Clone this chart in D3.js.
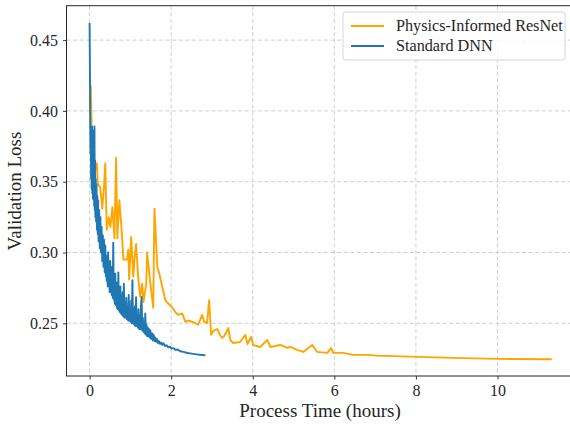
<!DOCTYPE html>
<html><head><meta charset="utf-8">
<script src="https://cdn.jsdelivr.net/npm/d3@7"></script>
<style>body{margin:0;background:#fff;} svg{display:block;} text{font-family:"Liberation Serif","DejaVu Serif",serif;fill:#262626;}</style>
</head><body>
<svg id="c" width="570" height="425"></svg>
<script>
const seriesNames = ["Physics-Informed ResNet", "Standard DNN"];
const xTicks = [0, 2, 4, 6, 8, 10];
const yTicks = [0.25, 0.30, 0.35, 0.40, 0.45];

const resnetTime = [0.03,0.05,0.08,0.11,0.14,0.18,0.20,0.23,0.26,0.31,0.35,0.385,0.42,0.47,0.51,0.56,0.61,0.65,0.68,0.73,0.78,0.83,0.92,0.95,0.97,1.02,1.07,1.10,1.14,1.19,1.24,1.29,1.32,1.39,1.41,1.49,1.56,1.59,1.66,1.71,1.78,1.86,1.93,2.03,2.10,2.17,2.27,2.35,2.42,2.52,2.59,2.66,2.76,2.81,2.88,2.93,2.98,3.03,3.13,3.20,3.25,3.30,3.38,3.40,3.45,3.52,3.69,3.82,3.87,3.96,4.01,4.18,4.36,4.43,4.67,4.85,4.92,5.09,5.24,5.36,5.46,5.58,5.83,5.92,5.97,6.22,6.46,6.81,7.12,7.30,8.03,8.91,9.99,11.33];
const resnetLoss = [0.418,0.388,0.372,0.365,0.358,0.363,0.349,0.347,0.346,0.331,0.345,0.363,0.316,0.325,0.318,0.332,0.310,0.367,0.310,0.337,0.318,0.295,0.295,0.302,0.281,0.311,0.283,0.295,0.306,0.283,0.269,0.278,0.265,0.278,0.300,0.278,0.261,0.331,0.290,0.285,0.276,0.266,0.264,0.261,0.258,0.256,0.257,0.251,0.252,0.251,0.2502,0.249,0.256,0.251,0.2502,0.2664,0.2418,0.2446,0.246,0.2418,0.2397,0.241,0.2453,0.2467,0.2382,0.2361,0.2368,0.2418,0.2354,0.2403,0.2347,0.2333,0.2382,0.2333,0.2347,0.2326,0.2333,0.2312,0.2298,0.2326,0.2347,0.2298,0.2291,0.2326,0.2291,0.2291,0.2277,0.2277,0.227,0.227,0.2263,0.2256,0.2249,0.2246];

const dnnTime = [0.000,0.008,0.015,0.022,0.030,0.037,0.045,0.052,0.060,0.067,0.075,0.082,0.090,0.097,0.105,0.112,0.120,0.127,0.135,0.142,0.150,0.160,0.170,0.180,0.190,0.200,0.210,0.220,0.235,0.250,0.265,0.280,0.295,0.310,0.325,0.340,0.355,0.370,0.385,
  0.400,0.410,0.420,0.432,0.445,0.455,0.468,0.480,0.492,0.505,0.518,0.530,0.542,0.555,0.567,0.580,0.592,0.605,0.617,0.630,0.642,0.655,0.667,0.680,0.692,0.705,0.718,0.730,0.742,0.755,0.768,0.780,0.795,0.810,0.825,0.840,0.855,0.870,0.885,0.900,0.915,0.930,0.945,0.960,0.975,0.990,1.005,1.020,1.035,1.050,1.065,1.080,1.095,1.110,1.125,1.140,1.155,1.170,1.185,1.200,1.215,1.230,1.245,1.260,1.275,1.290,1.305,1.320,1.335,1.350,1.365,1.380,1.395,1.410,1.425,1.440,1.455,1.470,1.490,1.510,1.530,1.550,1.570,1.590,1.610,1.630,1.650,1.675,1.700,1.725,1.750,1.780,
  1.810,1.850,1.890,1.930,1.970,2.010,2.060,2.110,2.160,2.220,2.300,2.380,2.460,2.540,2.620,2.700,2.780,2.840];
const dnnLoss = [0.462,0.430,0.395,0.370,0.388,0.352,0.385,0.345,0.389,0.342,0.380,0.338,0.386,0.340,0.372,0.333,0.389,0.330,0.365,0.325,0.352,0.322,0.348,0.316,0.340,0.313,0.337,0.308,0.330,0.303,0.325,0.300,0.318,0.294,0.312,0.290,0.309,0.286,0.305,
  0.283,0.298,0.280,0.293,0.276,0.300,0.277,0.288,0.272,0.294,0.273,0.283,0.270,0.290,0.268,0.307,0.267,0.280,0.264,0.285,0.263,0.274,0.261,0.279,0.260,0.286,0.259,0.270,0.258,0.276,0.257,0.266,0.256,0.272,0.255,0.278,0.254,0.263,0.254,0.268,0.253,0.262,0.252,0.270,0.252,0.260,0.251,0.266,0.250,0.2805,0.250,0.259,0.249,0.262,0.248,0.2685,0.248,0.256,0.247,0.260,0.246,0.255,0.246,0.262,0.2687,0.245,0.254,0.244,0.251,0.243,0.257,0.242,0.249,0.241,0.247,0.241,0.246,0.240,0.245,0.239,0.243,0.238,0.242,0.2375,0.240,0.237,0.239,0.236,0.2375,0.2355,0.2365,0.2348,
  0.236,0.234,0.2345,0.233,0.2335,0.2322,0.2325,0.2312,0.2315,0.2303,0.2298,0.2292,0.2288,0.2284,0.2281,0.2278,0.2276,0.2274];

const colors = ["#FFA500", "#1f77b4"];

const svg = d3.select("#c");
const L = 66.5, R = 575, T = 5.7, B = 376;
const x = d3.scaleLinear().domain([-0.566, 11.9]).range([L, R]);
const y = d3.scaleLinear().domain([0.2128, 0.4743]).range([B, T]);

// grid
const grid = svg.append("g");
grid.selectAll(".vg").data(xTicks).enter().append("line")
  .attr("x1", d => x(d)).attr("x2", d => x(d)).attr("y1", T).attr("y2", B)
  .attr("stroke", "#cfcfcf").attr("stroke-width", 1).attr("stroke-dasharray", "4,2.6");
grid.selectAll(".hg").data(yTicks).enter().append("line")
  .attr("y1", d => y(d)).attr("y2", d => y(d)).attr("x1", L).attr("x2", R)
  .attr("stroke", "#cfcfcf").attr("stroke-width", 1).attr("stroke-dasharray", "4,2.6");

// lines
const line = d3.line().x(d => x(d[0])).y(d => y(d[1]));
const resnet = resnetTime.map((t, i) => [t, resnetLoss[i]]);
const dnn = dnnTime.map((t, i) => [t, dnnLoss[i]]);
svg.append("path").datum(resnet).attr("d", line).attr("fill", "none")
  .attr("stroke", colors[0]).attr("stroke-width", 1.9).attr("stroke-linejoin", "round");
svg.append("path").datum(dnn).attr("d", line).attr("fill", "none")
  .attr("stroke", colors[1]).attr("stroke-width", 1.9).attr("stroke-linejoin", "round");

// axes
const xAxis = d3.axisBottom(x).tickValues(xTicks).tickSize(3.5).tickPadding(5).tickFormat(d3.format("d"));
const yAxis = d3.axisLeft(y).tickValues(yTicks).tickSize(3.5).tickPadding(5).tickFormat(d3.format(".2f"));
const gx = svg.append("g").attr("transform", `translate(0,${B})`).call(xAxis);
const gy = svg.append("g").attr("transform", `translate(${L},0)`).call(yAxis);
[gx, gy].forEach(g => {
  g.select(".domain").remove();
  g.selectAll(".tick line").attr("stroke", "#262626").attr("stroke-width", 0.9);
  g.selectAll(".tick text").attr("font-size", 16).attr("font-family", "'Liberation Serif',serif").attr("fill", "#262626");
});

// frame
svg.append("rect").attr("x", L).attr("y", T).attr("width", R - L).attr("height", B - T)
  .attr("fill", "none").attr("stroke", "#262626").attr("stroke-width", 1);

// labels
svg.append("text").attr("x", 320).attr("y", 417).attr("text-anchor", "middle")
  .attr("font-size", 19).text("Process Time (hours)");
svg.append("text").attr("transform", "translate(21,191) rotate(-90)").attr("text-anchor", "middle")
  .attr("font-size", 19).text("Validation Loss");

// legend
const lg = svg.append("g").attr("transform", "translate(343,12)");
lg.append("rect").attr("width", 222).attr("height", 48).attr("rx", 3)
  .attr("fill", "#fff").attr("fill-opacity", 0.8).attr("stroke", "#d6d6d6").attr("stroke-width", 1);
seriesNames.forEach((n, i) => {
  const yy = 14 + i * 20;
  lg.append("line").attr("x1", 8).attr("x2", 41).attr("y1", yy).attr("y2", yy)
    .attr("stroke", colors[i]).attr("stroke-width", 1.9);
  lg.append("text").attr("x", 53).attr("y", yy + 5).attr("font-size", 16.2).text(n);
});
</script>
</body></html>
